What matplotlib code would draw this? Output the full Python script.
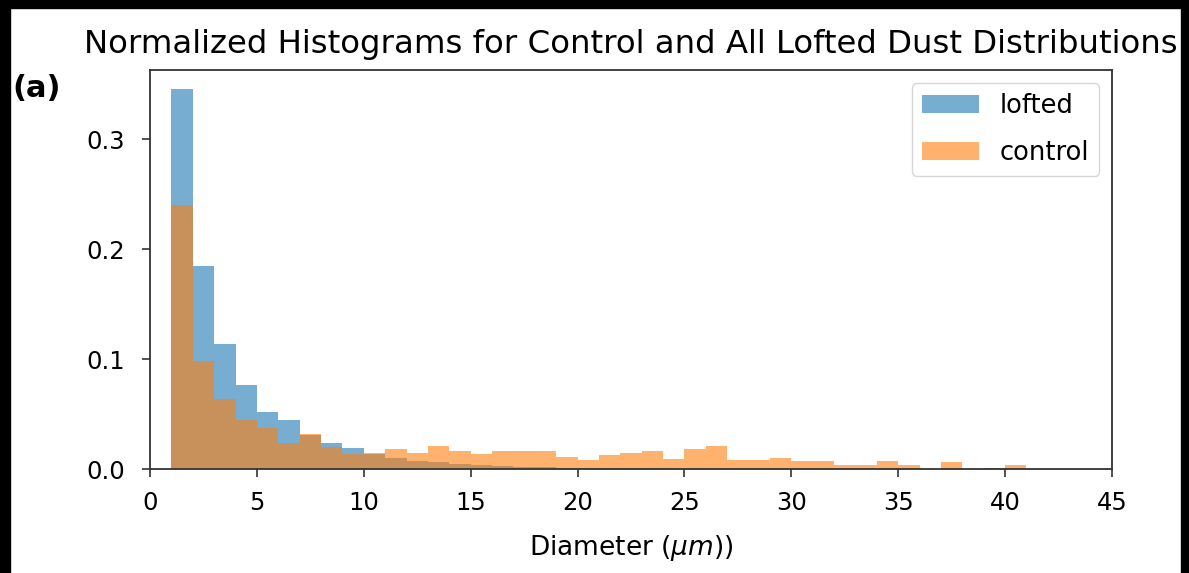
import numpy as np
import matplotlib.pyplot as plt
from matplotlib.patches import Rectangle

# bin edges (um), 1 um wide bins from 1 to 41
edges = np.arange(1, 42)

# normalized histogram heights
lofted = [0.346, 0.185, 0.114, 0.076, 0.052, 0.045, 0.031, 0.024, 0.019, 0.014,
          0.010, 0.007, 0.006, 0.005, 0.004, 0.003, 0.002, 0.002, 0.001, 0.001,
          0.001, 0.0005, 0.0005, 0, 0, 0, 0, 0, 0, 0,
          0, 0, 0, 0, 0, 0, 0, 0, 0, 0]
control = [0.240, 0.0985, 0.0636, 0.0444, 0.037, 0.024, 0.032, 0.020, 0.014, 0.015,
           0.018, 0.015, 0.021, 0.016, 0.014, 0.016, 0.016, 0.016, 0.011, 0.0085,
           0.013, 0.015, 0.016, 0.009, 0.018, 0.021, 0.008, 0.008, 0.010, 0.0075,
           0.0075, 0.004, 0.004, 0.0073, 0.0035, 0, 0.006, 0, 0.001, 0.0035]

xticks = np.arange(0, 50, 5)
yticks = [0.0, 0.1, 0.2, 0.3]

fig = plt.figure(figsize=(11.89, 5.73), dpi=100)
ax = fig.add_axes([0.1262, 0.1815, 0.8090, 0.6963])

ax.hist(edges[:-1], bins=edges, weights=lofted, color='C0', alpha=0.6, label='lofted')
ax.hist(edges[:-1], bins=edges, weights=control, color='C1', alpha=0.6, label='control')

ax.set_xlim(0, 45)
ax.set_ylim(0, 0.363)
ax.set_xticks(xticks)
ax.set_yticks(yticks)
ax.tick_params(labelsize=17.5, length=6, width=1.2, color='#333333')
ax.tick_params(axis='x', pad=10)
ax.tick_params(axis='y', pad=12)
for s in ax.spines.values():
    s.set_linewidth(1.3)
    s.set_color('#333333')

ax.set_title('Normalized Histograms for Control and All Lofted Dust Distributions',
             fontsize=23.3, pad=12)
ax.set_xlabel(r'Diameter ($\mu m$))', fontsize=19, labelpad=13)
ax.legend(loc='upper right', fontsize=18.5, handlelength=2.2, borderpad=0.4,
          labelspacing=0.8)

fig.text(0.010, 0.846, '(a)', fontsize=22, fontweight='bold', va='center')

# black frame around the screenshot
W, H = 1189, 573
for x0, y0, w, h in [(0, 0, 10, H), (0, H - 8, W, 8), (W - 8, 0, 8, H)]:
    fig.patches.append(Rectangle((x0 / W, y0 / H), w / W, h / H, transform=fig.transFigure,
                                 color='black', zorder=10))

fig.savefig('out.png', dpi=100)
